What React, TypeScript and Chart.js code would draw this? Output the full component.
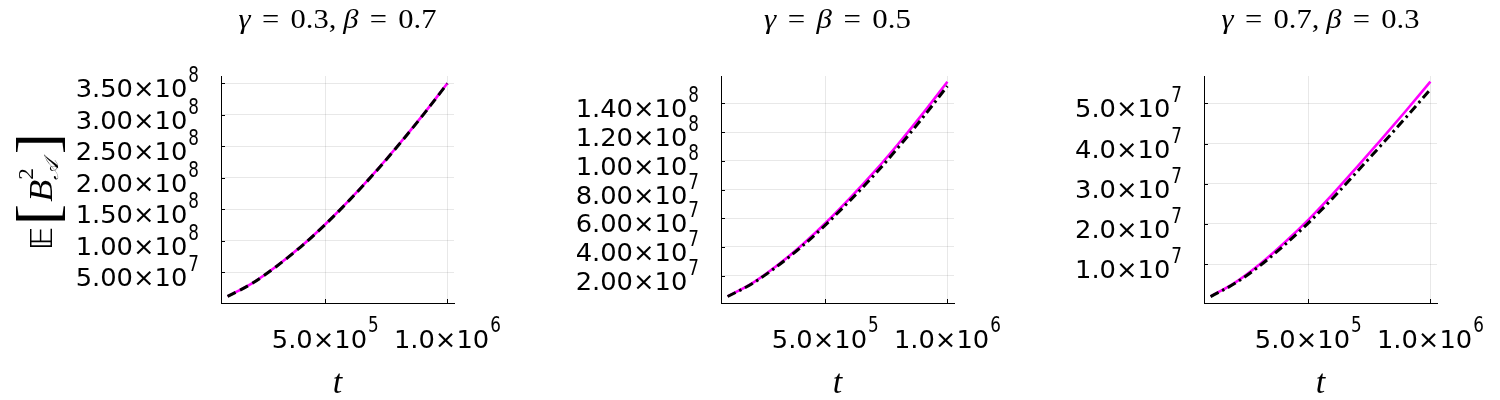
import React, { useEffect, useRef } from "react";
import { Chart, registerables } from "chart.js";

Chart.register(...registerables);

// ---------------- data ----------------
const tValues = [1e5, 2e5, 3e5, 4e5, 5e5, 6e5, 7e5, 8e5, 9e5, 1e6];

// panel 1: gamma = 0.3, beta = 0.7
const exact1 = [1.2e7, 3.27e7, 5.97e7, 9.1e7, 1.265e8, 1.655e8, 2.075e8, 2.525e8, 3.0e8, 3.5e8];
const approx1 = [1.19e7, 3.25e7, 5.95e7, 9.07e7, 1.261e8, 1.651e8, 2.07e8, 2.52e8, 2.996e8, 3.497e8];

// panel 2: gamma = beta = 0.5
const exact2 = [5.6e6, 1.47e7, 2.67e7, 4.07e7, 5.65e7, 7.38e7, 9.22e7, 1.12e8, 1.33e8, 1.55e8];
const approx2 = [5.5e6, 1.44e7, 2.62e7, 3.98e7, 5.52e7, 7.21e7, 9.0e7, 1.095e8, 1.302e8, 1.52e8];

// panel 3: gamma = 0.7, beta = 0.3
const exact3 = [1.95e6, 5.4e6, 9.9e6, 1.52e7, 2.1e7, 2.74e7, 3.42e7, 4.11e7, 4.815e7, 5.54e7];
const approx3 = [1.9e6, 5.2e6, 9.5e6, 1.46e7, 2.02e7, 2.64e7, 3.3e7, 3.97e7, 4.65e7, 5.35e7];

// ticks
const xTicks = [5e5, 1e6];
const xTickLabels = ["5.0×10^5", "1.0×10^6"];

const yTicks1 = [5e7, 1e8, 1.5e8, 2e8, 2.5e8, 3e8, 3.5e8];
const yTickLabels1 = ["5.00×10^7", "1.00×10^8", "1.50×10^8", "2.00×10^8", "2.50×10^8", "3.00×10^8", "3.50×10^8"];

const yTicks2 = [2e7, 4e7, 6e7, 8e7, 1e8, 1.2e8, 1.4e8];
const yTickLabels2 = ["2.00×10^7", "4.00×10^7", "6.00×10^7", "8.00×10^7", "1.00×10^8", "1.20×10^8", "1.40×10^8"];

const yTicks3 = [1e7, 2e7, 3e7, 4e7, 5e7];
const yTickLabels3 = ["1.0×10^7", "2.0×10^7", "3.0×10^7", "4.0×10^7", "5.0×10^7"];

// titles: [text, italic?]
const title1: [string, boolean][] = [["γ", true], ["=", false], ["0.3,", false], ["β", true], ["=", false], ["0.7", false]];
const title2: [string, boolean][] = [["γ", true], ["=", false], ["β", true], ["=", false], ["0.5", false]];
const title3: [string, boolean][] = [["γ", true], ["=", false], ["0.7,", false], ["β", true], ["=", false], ["0.3", false]];

// ---------------- config ----------------
type PanelCfg = {
  exact: number[];
  approx: number[];
  yTicks: number[];
  yLabels: string[];
  yMin: number;
  yMax: number;
  yAxisWidth: number;
  rightPad: number;
  dash: number[];
  title: [string, boolean][];
  titleWidth: number;
  showYTitle: boolean;
};

const panels: PanelCfg[] = [
  { exact: exact1, approx: approx1, yTicks: yTicks1, yLabels: yTickLabels1, yMin: 1.5e6, yMax: 3.616e8, yAxisWidth: 221, rightPad: 46, dash: [9, 5], title: title1, titleWidth: 198, showYTitle: true },
  { exact: exact2, approx: approx2, yTicks: yTicks2, yLabels: yTickLabels2, yMin: 1.0e6, yMax: 1.59e8, yAxisWidth: 221, rightPad: 46, dash: [9, 4, 2.5, 4], title: title2, titleWidth: 147, showYTitle: false },
  { exact: exact3, approx: approx3, yTicks: yTicks3, yLabels: yTickLabels3, yMin: 3.1e5, yMax: 5.68e7, yAxisWidth: 204, rightPad: 63, dash: [9, 4, 2.5, 4], title: title3, titleWidth: 198, showYTitle: false },
];

const X_MIN = 7.3e4;
const X_MAX = 1.027e6;
const TOP = 76;
const X_AXIS_H = 97;

const SANS = "'DejaVu Sans', sans-serif";
const SERIF = "'Liberation Serif', 'DejaVu Serif', serif";
const MAIN_FONT = `25px ${SANS}`;
const SUP_FONT = `21px ${SANS}`;
const MAIN_SX = 1.03;
const SUP_SX = 0.8;

function drawTickLabel(ctx: CanvasRenderingContext2D, label: string, x: number, baseline: number, align: "right" | "center", supRise: number) {
  const [mant, exp] = label.split("^");
  ctx.font = MAIN_FONT;
  const wm = ctx.measureText(mant).width * MAIN_SX;
  ctx.font = SUP_FONT;
  const we = ctx.measureText(exp).width * SUP_SX;
  const gap = 1;
  const total = wm + gap + we;
  const x0 = align === "right" ? x - total : x - total / 2;
  ctx.textAlign = "left";
  ctx.textBaseline = "alphabetic";
  ctx.save();
  ctx.translate(x0, baseline);
  ctx.scale(MAIN_SX, 1);
  ctx.font = MAIN_FONT;
  ctx.fillText(mant, 0, 0);
  ctx.restore();
  ctx.save();
  ctx.translate(x0 + wm + gap, baseline - supRise);
  ctx.scale(SUP_SX, 1);
  ctx.font = SUP_FONT;
  ctx.fillText(exp, 0, 0);
  ctx.restore();
}

function drawTitle(ctx: CanvasRenderingContext2D, parts: [string, boolean][], cx: number, baseline: number, targetW: number) {
  const size = 27;
  const gapEq = 10;
  const gapComma = 6;
  const items: { t: string; f: string; w: number; g: number }[] = [];
  parts.forEach(([t, it], i) => {
    const f = `${it ? "italic " : ""}${size}px ${SERIF}`;
    ctx.font = f;
    const w = ctx.measureText(t).width;
    let g = 0;
    if (i < parts.length - 1) {
      const next = parts[i + 1][0];
      g = t === "=" || next === "=" ? gapEq : gapComma;
    }
    items.push({ t, f, w, g });
  });
  const natural = items.reduce((s, it) => s + it.w + it.g, 0);
  const sx = targetW / natural;
  ctx.save();
  ctx.translate(cx - targetW / 2, baseline);
  ctx.scale(sx, 1);
  ctx.textAlign = "left";
  ctx.textBaseline = "alphabetic";
  let x = 0;
  items.forEach((it) => {
    ctx.font = it.f;
    ctx.fillText(it.t, x, 0);
    x += it.w + it.g;
  });
  ctx.restore();
}

function drawYTitle(ctx: CanvasRenderingContext2D, cy: number, baseX: number, targetLen: number) {
  // rotated: u along text, v positive = toward baseline side (screen right)
  type It = { t: string; f: string; v: number; adv: boolean; w?: number };
  const its: It[] = [
    { t: "𝔼", f: `30px ${SANS}`, v: 0, adv: true },
    { t: " ", f: `6px ${SERIF}`, v: 0, adv: true },
    { t: "[", f: `60px ${SERIF}`, v: 5, adv: true },
    { t: " ", f: `8px ${SERIF}`, v: 0, adv: true },
    { t: "B", f: `italic 34px ${SERIF}`, v: 0, adv: true },
    { t: "2", f: `22px ${SERIF}`, v: -19, adv: false },
    { t: "𝒜", f: `italic 20px ${SERIF}`, v: 6, adv: true },
    { t: "  ", f: `10px ${SERIF}`, v: 0, adv: true },
    { t: "]", f: `60px ${SERIF}`, v: 5, adv: true },
  ];
  let total = 0;
  its.forEach((it, i) => {
    ctx.font = it.f;
    it.w = ctx.measureText(it.t).width;
    if (it.adv) {
      if (i > 0 && !its[i - 1].adv) total += Math.max(it.w, its[i - 1].w || 0);
      else total += it.w;
    }
  });
  const s = targetLen / total;
  ctx.save();
  ctx.translate(baseX, cy);
  ctx.rotate(-Math.PI / 2);
  ctx.translate(-targetLen / 2, 0);
  ctx.scale(s, 1);
  ctx.textAlign = "left";
  ctx.textBaseline = "alphabetic";
  let u = 0;
  its.forEach((it, i) => {
    ctx.font = it.f;
    ctx.fillText(it.t, u, it.v);
    if (it.adv) {
      if (i > 0 && !its[i - 1].adv) u += Math.max(it.w || 0, its[i - 1].w || 0);
      else u += it.w || 0;
    }
  });
  ctx.restore();
}

const annotPlugin = {
  id: "annot",
  afterDraw(chart: any, _args: any, opts: any) {
    const cfg: PanelCfg = opts.cfg;
    const ctx: CanvasRenderingContext2D = chart.ctx;
    const area = chart.chartArea;
    const xs = chart.scales.x;
    const ys = chart.scales.y;
    ctx.save();
    ctx.fillStyle = "#000";
    ctx.strokeStyle = "#000";
    ctx.lineWidth = 1;
    // y ticks + labels
    ys.ticks.forEach((t: any, i: number) => {
      const py = ys.getPixelForValue(t.value);
      const ay = Math.round(py) + 0.5;
      ctx.beginPath();
      ctx.moveTo(area.left, ay);
      ctx.lineTo(area.left + 4, ay);
      ctx.stroke();
      drawTickLabel(ctx, cfg.yLabels[i], area.left - 22, py + 14, "right", 15);
    });
    // x ticks + labels
    xs.ticks.forEach((t: any, i: number) => {
      const px = xs.getPixelForValue(t.value);
      const ax = Math.round(px) + 0.5;
      ctx.beginPath();
      ctx.moveTo(ax, area.bottom);
      ctx.lineTo(ax, area.bottom - 4);
      ctx.stroke();
      drawTickLabel(ctx, xTickLabels[i], px, area.bottom + 45, "center", 16.5);
    });
    const cx = (area.left + area.right) / 2;
    // title
    drawTitle(ctx, cfg.title, cx, 28, cfg.titleWidth);
    // x title
    ctx.font = `italic 34px ${SERIF}`;
    ctx.textAlign = "center";
    ctx.textBaseline = "alphabetic";
    ctx.fillText("t", cx, 393);
    // y title
    if (cfg.showYTitle) {
      drawYTitle(ctx, (area.top + area.bottom) / 2 + 2, 52, 117);
    }
    ctx.restore();
  },
};

function Panel({ cfg }: { cfg: PanelCfg }) {
  const ref = useRef<HTMLCanvasElement | null>(null);
  useEffect(() => {
    if (!ref.current) return;
    const chart = new Chart(ref.current, {
      type: "line",
      data: {
        datasets: [
          {
            label: "approx",
            data: tValues.map((x, i) => ({ x, y: cfg.approx[i] })),
            borderColor: "#000000",
            borderWidth: 3,
            borderDash: cfg.dash,
            pointRadius: 0,
            fill: false,
            cubicInterpolationMode: "monotone",
          },
          {
            label: "exact",
            data: tValues.map((x, i) => ({ x, y: cfg.exact[i] })),
            borderColor: "#ff00ff",
            borderWidth: 2.6,
            pointRadius: 0,
            fill: false,
            cubicInterpolationMode: "monotone",
          },
        ],
      },
      options: {
        animation: false,
        responsive: false,
        events: [],
        layout: { padding: { top: TOP, left: 0, right: cfg.rightPad, bottom: 0 } },
        plugins: {
          legend: { display: false },
          tooltip: { enabled: false },
          title: { display: false },
          annot: { cfg },
        } as any,
        scales: {
          x: {
            type: "linear",
            min: X_MIN,
            max: X_MAX,
            afterBuildTicks: (s: any) => {
              s.ticks = xTicks.map((v) => ({ value: v }));
            },
            afterFit: (s: any) => {
              s.height = X_AXIS_H;
            },
            ticks: { display: false },
            grid: { color: "rgba(0,0,0,0.09)", lineWidth: 1, drawTicks: false },
            border: { color: "#000", width: 1 },
          },
          y: {
            type: "linear",
            min: cfg.yMin,
            max: cfg.yMax,
            afterBuildTicks: (s: any) => {
              s.ticks = cfg.yTicks.map((v) => ({ value: v }));
            },
            afterFit: (s: any) => {
              s.width = cfg.yAxisWidth;
            },
            ticks: { display: false },
            grid: { color: "rgba(0,0,0,0.09)", lineWidth: 1, drawTicks: false },
            border: { color: "#000", width: 1 },
          },
        },
      } as any,
      plugins: [annotPlugin as any],
    });
    return () => chart.destroy();
  }, [cfg]);
  return <canvas ref={ref} width={500} height={400} style={{ display: "block", width: 500, height: 400 }} />;
}

export default function App() {
  return (
    <div style={{ position: "absolute", left: 0, top: 0, width: 1500, height: 400, display: "flex", background: "#fff" }}>
      {panels.map((p, i) => (
        <Panel key={i} cfg={p} />
      ))}
    </div>
  );
}
